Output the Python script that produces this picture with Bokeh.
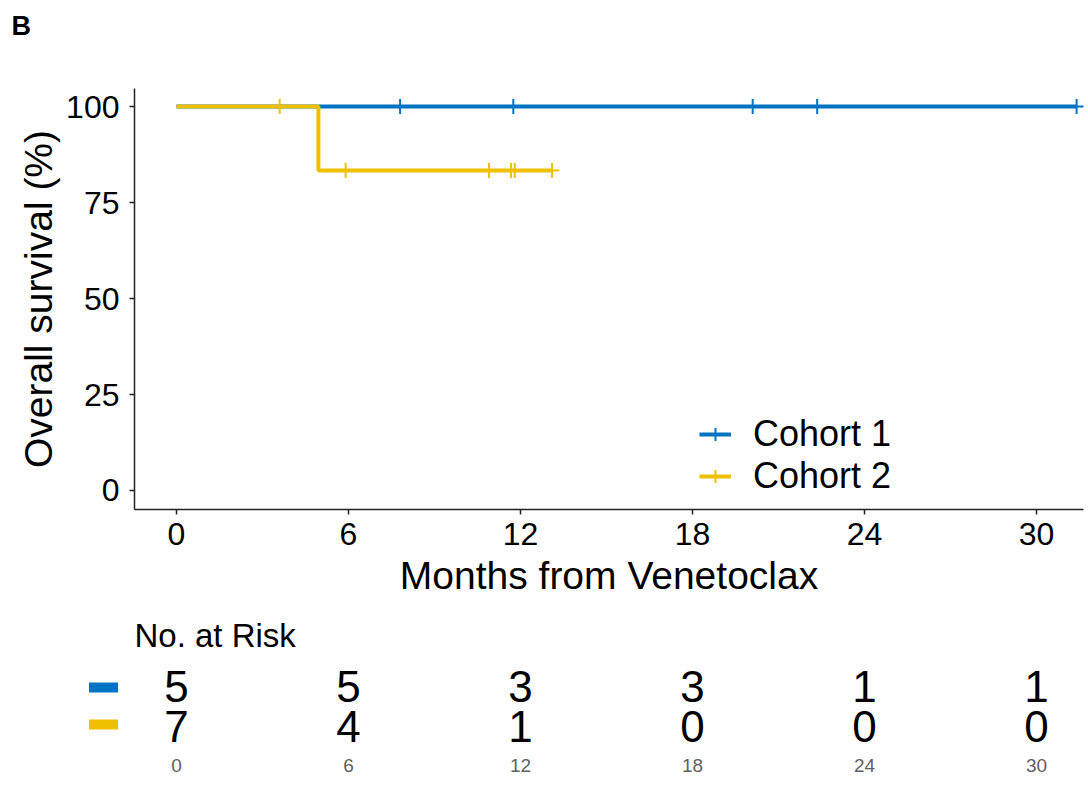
from bokeh.plotting import figure
from bokeh.models import Range1d, FixedTicker, Legend, LegendItem
from bokeh.core.properties import value
from bokeh.embed import file_html
from bokeh.resources import INLINE

# ---- data ----
cohorts = ["Cohort 1", "Cohort 2"]
colors = ["#0073C2", "#EFC000"]
step_t1 = [0, 31.4]
step_s1 = [100, 100]
censor_t1 = [7.8, 11.75, 20.1, 22.35, 31.4]
censor_s1 = [100, 100, 100, 100, 100]
step_t2 = [0, 4.95, 13.1]
step_s2 = [100, 83.33, 83.33]
censor_t2 = [3.6, 5.9, 10.9, 11.67, 11.8, 13.1]
censor_s2 = [100, 83.33, 83.33, 83.33, 83.33, 83.33]
risk_times = [0, 6, 12, 18, 24, 30]
risk_c1 = [5, 5, 3, 3, 1, 1]
risk_c2 = [7, 4, 1, 0, 0, 0]
y_ticks = [0, 25, 50, 75, 100]
panel_tag = "B"

FONT = "Liberation Sans"
W = 1088
X0, X1 = -1.465, 31.64
LEFT, RIGHT = 134, 5
HDR_H, MAIN_H, TAB_H = 50, 550, 187
ppm = (W - LEFT - RIGHT) / (X1 - X0)

# ---- header with panel tag ----
hdr = figure(width=W, height=HDR_H, output_backend="svg", toolbar_location=None,
             x_range=Range1d(0, W), y_range=Range1d(HDR_H, 0),
             x_axis_type=None, y_axis_type=None, min_border=0)
hdr.grid.visible = False
hdr.outline_line_color = None
hdr.text(x=[11], y=[25], text=[panel_tag], text_font=value(FONT), text_font_size="27px",
         text_font_style="bold", text_align="left", text_baseline="middle",
         text_color="black")

# ---- main KM plot ----
p = figure(width=W, height=MAIN_H, output_backend="svg", toolbar_location=None,
           x_range=Range1d(X0, X1), y_range=Range1d(-4.95, 104.7),
           min_border_left=LEFT, min_border_right=RIGHT, min_border_top=88 - HDR_H,
           min_border_bottom=91)
p.outline_line_color = None
p.xgrid.visible = False
p.ygrid.visible = False

r1l = p.step(step_t1, step_s1, mode="after", line_color=colors[0], line_width=4)
r1c = p.scatter(censor_t1, censor_s1, marker="cross", size=15, line_width=2, color=colors[0])
r2l = p.step(step_t2, step_s2, mode="after", line_color=colors[1], line_width=4)
r2c = p.scatter(censor_t2, censor_s2, marker="cross", size=15, line_width=2, color=colors[1])

for ax in (p.xaxis[0], p.yaxis[0]):
    ax.axis_line_color = "#222222"
    ax.axis_line_width = 1.5
    ax.major_tick_line_color = "#222222"
    ax.major_tick_line_width = 1.5
    ax.major_tick_out = 5
    ax.major_tick_in = 0
    ax.minor_tick_line_color = None
    ax.major_label_text_font = FONT
    ax.major_label_text_font_size = "32px"
    ax.major_label_text_color = "black"
    ax.axis_label_text_font = FONT
    ax.axis_label_text_font_size = "39px"
    ax.axis_label_text_font_style = "normal"
    ax.axis_label_text_color = "black"

p.xaxis.ticker = FixedTicker(ticks=risk_times)
p.yaxis.ticker = FixedTicker(ticks=y_ticks)
p.xaxis.axis_label = "Months from Venetoclax"
p.yaxis.axis_label = "Overall survival (%)"
p.xaxis.major_label_standoff = 8
p.xaxis.axis_label_standoff = 6
p.yaxis.major_label_standoff = 10
p.yaxis.axis_label_standoff = 3

leg_kw = dict(orientation="vertical", label_text_font=FONT, label_text_font_size="36px",
              label_text_color="black",
              glyph_width=32, glyph_height=36, label_height=36, label_standoff=22,
              spacing=0, padding=0, margin=0, border_line_alpha=0,
              background_fill_alpha=0)
p.add_layout(Legend(items=[LegendItem(label=cohorts[0], renderers=[r1l, r1c])],
                    location=(565, 54), **leg_kw))
p.add_layout(Legend(items=[LegendItem(label=cohorts[1], renderers=[r2l, r2c])],
                    location=(565, 12), **leg_kw))

# ---- risk table: full-width frame, same months-to-pixels scale ----
RX0 = X0 - LEFT / ppm
RX1 = X1 + RIGHT / ppm
q = figure(width=W, height=TAB_H, output_backend="svg", toolbar_location=None,
           x_range=Range1d(RX0, RX1), y_range=Range1d(TAB_H, 0),
           x_axis_type=None, y_axis_type=None, min_border=0)
q.grid.visible = False
q.outline_line_color = None

q.text(x=[X0], y=[35], text=["No. at Risk"], text_font=value(FONT),
       text_font_size="33px", text_align="left", text_baseline="middle", text_color="black")
q.text(x=risk_times, y=[86] * len(risk_times), text=[str(v) for v in risk_c1],
       text_font=value(FONT), text_font_size="44px", text_align="center",
       text_baseline="middle", text_color="black")
q.text(x=risk_times, y=[126] * len(risk_times), text=[str(v) for v in risk_c2],
       text_font=value(FONT), text_font_size="44px", text_align="center",
       text_baseline="middle", text_color="black")
q.text(x=risk_times, y=[165] * len(risk_times), text=[str(v) for v in risk_times],
       text_font=value(FONT), text_font_size="19px", text_align="center",
       text_baseline="middle", text_color="#606060")
bar_x = X0 - 31 / ppm
q.rect(x=[bar_x, bar_x], y=[87, 124], width=29, height=10, width_units="screen",
       height_units="screen", fill_color=colors, line_color=None)

open("out.html", "w").write(file_html([hdr, p, q], INLINE))
